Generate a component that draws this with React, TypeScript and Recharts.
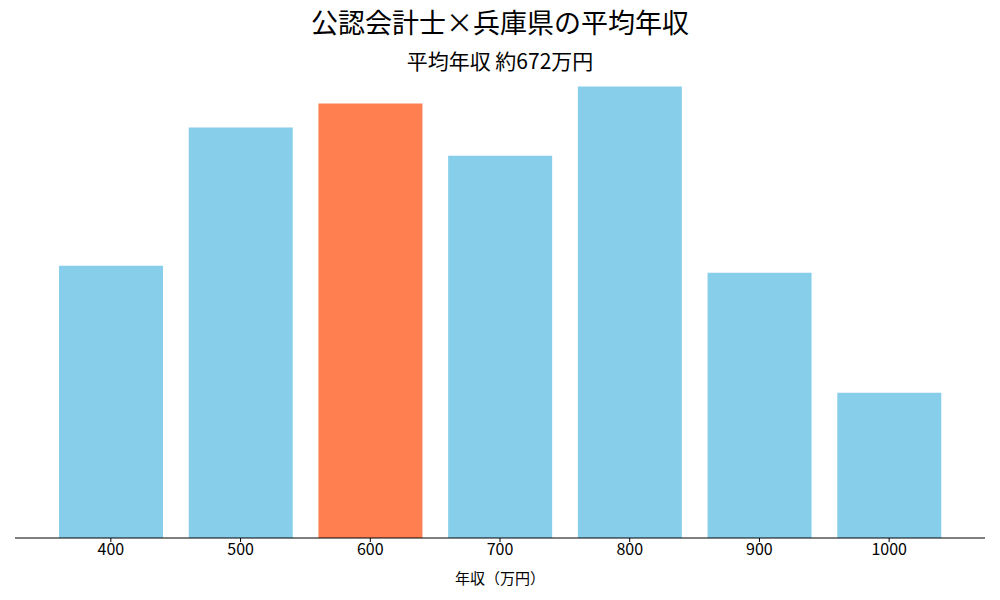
import React from 'react';
import { BarChart, Bar, XAxis, YAxis, Cell } from 'recharts';

// Income bands (万円) and relative bar heights
const categories = ['400', '500', '600', '700', '800', '900', '1000'];
const counts = [272, 410, 434, 382, 451, 265, 145];
const highlight = '600';

const data = categories.map((c, i) => ({ band: c, value: counts[i] }));

const font = '"Noto Sans CJK JP", "Noto Sans", sans-serif';

const App: React.FC = () => {
  return (
    <div style={{ position: 'absolute', left: 0, top: 0, width: 1000, height: 600, background: '#fff', fontFamily: font }}>
      <div style={{ position: 'absolute', top: 2, width: 1000, textAlign: 'center', fontSize: 27, color: '#000' }}>
        公認会計士×兵庫県の平均年収
      </div>
      <div style={{ position: 'absolute', top: 45, width: 1000, textAlign: 'center', fontSize: 21, color: '#000' }}>
        平均年収 約672万円
      </div>
      <BarChart
        width={1000}
        height={600}
        data={data}
        margin={{ top: 64, right: 15, bottom: 0, left: 15 }}
        style={{ position: 'absolute', left: 0, top: 0 }}
      >
        <XAxis
          dataKey="band"
          height={62}
          padding={{ left: 31, right: 31 }}
          stroke="#000"
          fontSize={16}
          tick={{ fill: '#000', fontSize: 16, fontFamily: font }}
          tickLine={{ stroke: '#000' }}
          tickSize={4}
          axisLine={{ stroke: '#000', strokeWidth: 1.2 }}
          label={{ value: '年収（万円）', position: 'insideBottom', offset: 16, fill: '#000', fontSize: 15, fontFamily: font }}
        />
        <YAxis hide domain={[0, 451 * 1.05]} />
        <Bar dataKey="value" barSize={104} isAnimationActive={false}>
          {data.map((d) => (
            <Cell key={d.band} fill={d.band === highlight ? '#FF7F50' : '#87CEEB'} />
          ))}
        </Bar>
      </BarChart>
    </div>
  );
};

export default App;
